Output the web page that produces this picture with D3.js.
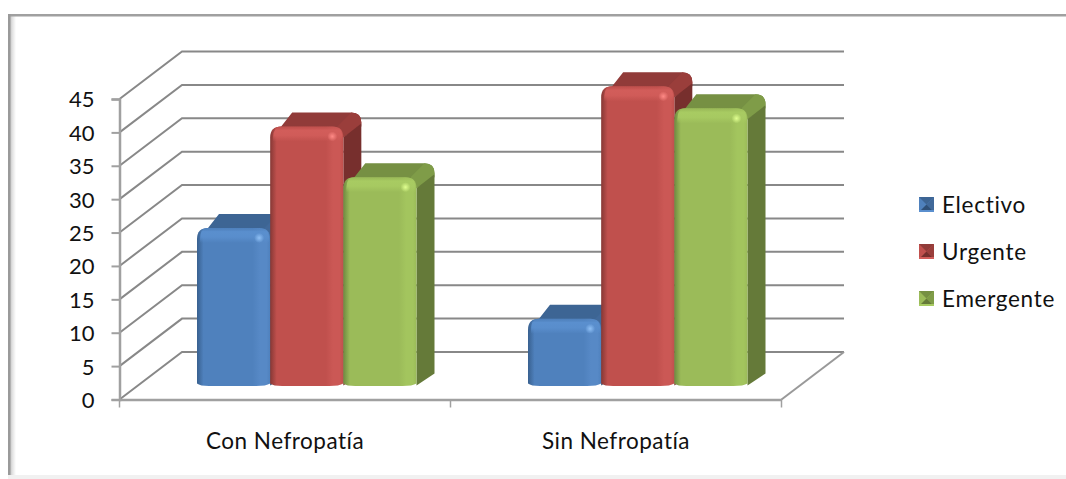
<!DOCTYPE html>
<html><head><meta charset="utf-8">
<style>html,body{margin:0;padding:0;background:#fff}svg{display:block}text{font-family:Lato,Carlito,sans-serif;fill:#111;font-variant-ligatures:none}</style>
<script src="https://cdnjs.cloudflare.com/ajax/libs/d3/7.8.5/d3.min.js"></script>
</head><body><svg id="c" width="1066" height="479"></svg>
<script>
const categories=["Con Nefropatía","Sin Nefropatía"];
const seriesNames=["Electivo","Urgente","Emergente"];
const electivo=[23.6,10];
const urgente=[38.8,44.8];
const emergente=[31.2,41.5];
const yTicks=[0,5,10,15,20,25,30,35,40,45];
const palette={
 Electivo:{base:"#4f81bd",light:"#5789c6",hi:"#5a8fce",dark:"#38608f",top:"#3d6594",corner:"#41699a",side:"#2f5078",spec:"#8fc0f5"},
 Urgente:{base:"#c0504d",light:"#cb5855",hi:"#d25d5a",dark:"#863835",top:"#913b39",corner:"#9a3e3b",side:"#772f2d",spec:"#ff8a86"},
 Emergente:{base:"#9bbb59",light:"#a3c55e",hi:"#a8cb62",dark:"#6e8a40",top:"#769043",corner:"#7f9c48",side:"#657a39",spec:"#e0ff90"}
};
const svg=d3.select("#c");
const y=d3.scaleLinear().domain([0,45]).range([399.5,99]);
const x=d3.scaleBand().domain(categories).range([119.5,781.5]);
const inner=d3.scaleBand().domain(seriesNames).range([77.5,297]);
const wallDx=62.5,wallDy=47.5,barDx=18,barDy=14;
const values={Electivo:electivo,Urgente:urgente,Emergente:emergente};
const defs=svg.append("defs");
seriesNames.forEach(s=>{
 const c=palette[s];
 const g=defs.append("linearGradient").attr("id","f"+s);
 [[0,c.dark],[.09,c.base],[.76,c.base],[.86,c.light],[.95,c.light],[1,c.base]].forEach(([o,k])=>g.append("stop").attr("offset",o).attr("stop-color",k));
 const b=defs.append("linearGradient").attr("id","b"+s).attr("x1",0).attr("x2",0).attr("y1",0).attr("y2",1);
 [[0,c.base,.3],[.25,c.hi,1],[.6,c.hi,.9],[1,c.hi,0]].forEach(([o,k,a])=>b.append("stop").attr("offset",o).attr("stop-color",k).attr("stop-opacity",a));
 const r=defs.append("radialGradient").attr("id","s"+s);
 [[0,c.spec,1],[1,c.spec,0]].forEach(([o,k,a])=>r.append("stop").attr("offset",o).attr("stop-color",k).attr("stop-opacity",a));
});
const lg=defs.append("linearGradient").attr("id","frameL");
[[0,"#c4c4c4"],[.4,"#e2e2e2"],[1,"#ffffff"]].forEach(([o,k])=>lg.append("stop").attr("offset",o).attr("stop-color",k));

// frame
svg.append("rect").attr("x",10).attr("y",16).attr("width",6).attr("height",460).attr("fill","url(#frameL)");
svg.append("rect").attr("x",8).attr("y",14).attr("width",1058).attr("height",2.5).attr("fill","#a0a0a0");
svg.append("rect").attr("x",8).attr("y",14).attr("width",2.5).attr("height",462).attr("fill","#9a9a9a");
svg.append("rect").attr("x",8).attr("y",475).attr("width",1058).attr("height",4).attr("fill","#f1f1f1");

// walls / grid
const grid=svg.append("g").attr("stroke","#888").attr("stroke-width",2).attr("fill","none");
grid.selectAll("path.g").data(yTicks).join("path").attr("class","g")
 .attr("d",v=>`M${x.range()[0]},${y(v)}L${x.range()[0]+wallDx},${y(v)-wallDy}H${x.range()[1]+wallDx}`);
grid.append("path").attr("d",`M${x.range()[1]},${y(0)}L${x.range()[1]+wallDx},${y(0)-wallDy}`).attr("stroke","#999");

// axes
const ya=svg.append("g").attr("transform",`translate(${x.range()[0]},0)`)
 .call(d3.axisLeft(y).tickValues(yTicks).tickSize(8).tickPadding(17));
const xa=svg.append("g").attr("transform",`translate(0,${y(0)})`)
 .call(d3.axisBottom(x).tickSize(0).tickPadding(34));
[ya,xa].forEach(a=>{a.selectAll("path.domain").attr("stroke","#a0a0a0").attr("stroke-width",2.5);
 a.selectAll("line").attr("stroke","#a0a0a0").attr("stroke-width",2);});
ya.selectAll("text").style("font-size","22px").attr("dy","0.36em").attr("fill","#111");
xa.selectAll("text").style("font-size","22.5px").style("letter-spacing","0.5px").attr("fill","#111");
xa.selectAll("g.b").data([0,1,2]).join("line").attr("stroke","#a0a0a0").attr("stroke-width",1.5)
 .attr("x1",i=>x.range()[0]+i*x.step()).attr("x2",i=>x.range()[0]+i*x.step()).attr("y1",0).attr("y2",8);

// bars
const rows=[];
categories.forEach((cat,i)=>seriesNames.forEach(s=>rows.push({cat,s,v:values[s][i]})));
svg.append("g").selectAll("g").data(rows).join("g").each(function(d){
 const g=d3.select(this),c=palette[d.s];
 const x0=x(d.cat)+inner(d.s),w=inner.bandwidth(),x1=x0+w;
 const top=y(d.v)-barDy,base=y(0)-barDy,r=11;
 const bk=top-barDy,rx=x1+barDx;
 // top face
 g.append("path").attr("fill",c.top).attr("d",
  `M${x0+1},${top+r}Q${x0+1},${top} ${x0+r},${top}L${x0+22},${bk}H${rx-10}Q${rx},${bk} ${rx},${bk+10}V${top}L${x1},${top+r}Z`);
 // corner wedge
 g.append("path").attr("fill",c.corner).attr("d",
  `M${x1-6},${top}L${x1+8},${bk}H${rx-10}Q${rx},${bk} ${rx},${bk+10}V${bk+11}L${x1},${top+r}Z`);
 // side
 g.append("path").attr("fill",c.side).attr("d",
  `M${x1},${top+r}L${rx},${bk+11}V${base-barDy+2}L${x1},${base}Z`);
 // front
 const frontPath=`M${x0},${top+r}Q${x0},${top} ${x0+r},${top}H${x1-r}Q${x1},${top} ${x1},${top+r}V${base-2}Q${x1-4},${base+.5} ${x1-14},${base+.5}H${x0+12}Q${x0+3},${base+.5} ${x0},${base-2}Z`;
 g.append("path").attr("fill",`url(#f${d.s})`).attr("d",frontPath);
 g.append("path").attr("fill",`url(#b${d.s})`).attr("d",`M${x0+3},${top+r}Q${x0+3},${top} ${x0+r},${top}H${x1-r}Q${x1-1},${top} ${x1-1},${top+r}V${top+15}H${x0+3}Z`);
 g.append("circle").attr("cx",x1-11).attr("cy",top+10).attr("r",5).attr("fill",`url(#s${d.s})`);
});

// legend
const leg=svg.append("g").selectAll("g").data(seriesNames).join("g")
 .attr("transform",(d,i)=>`translate(919,${197+i*47})`);
leg.each(function(d){
 const g=d3.select(this),c=palette[d],n=15,m=7.5;
 g.append("rect").attr("width",n).attr("height",n).attr("fill",c.base);
 g.append("path").attr("fill",c.top).attr("d",`M0,0L${m},${m}L${n},0Z`);
 g.append("path").attr("fill",c.corner).attr("d",`M${n},0L${m},${m}L${n},${n}Z`);
 g.append("path").attr("fill",c.side).attr("d",`M0,${n}L${m},${m}L${n},${n}Z`);
 g.append("rect").attr("y",n-2).attr("width",n).attr("height",2).attr("fill",c.hi);
 g.append("text").attr("x",23).attr("y",16).attr("font-size",22.5).style("letter-spacing","0.7px").text(d);
});
</script></body></html>
